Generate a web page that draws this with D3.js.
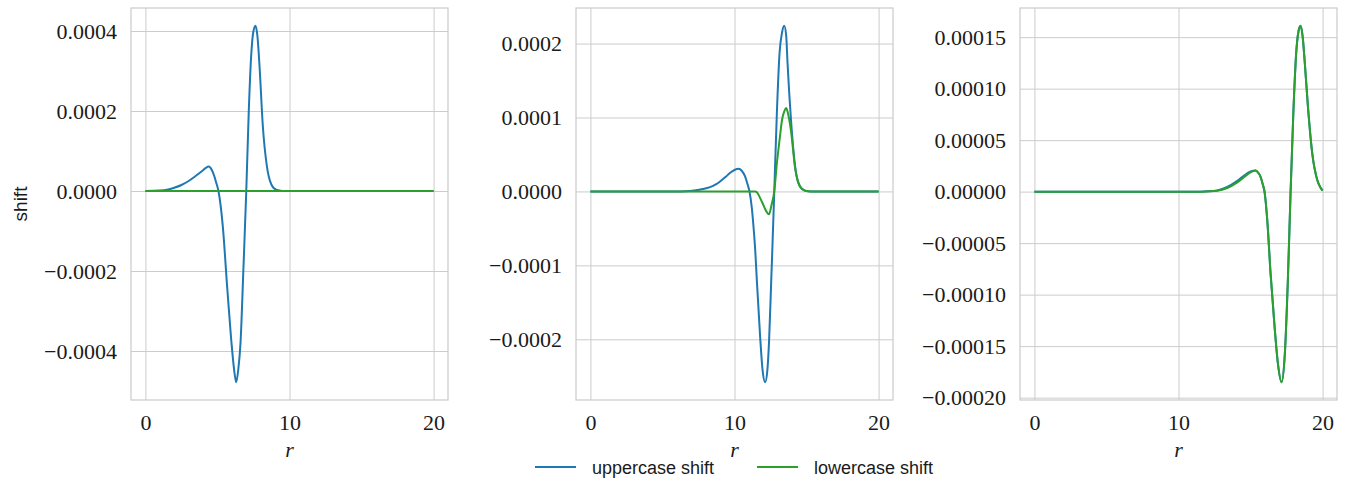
<!DOCTYPE html>
<head>
  <meta charset="utf-8">
  <title>shift vs r</title>
  <script src="https://d3js.org/d3.v7.min.js"></script>
  <style>
    body { margin: 0; background: #fff; }
    .tick text { font-family: "Liberation Serif", serif; font-size: 22px; fill: #1a1a1a; }
    .tick line { stroke: #cccccc; stroke-width: 1; }
    .domain { display: none; }
  </style>
</head>
<body>
  <div id="chart"></div>
  <script type="text/javascript">

    // values, shift in units of 1e-4
    var SCALE = 1e-4;

    // panel 1
    var r1 = [0, 1, 1.5, 2, 2.5, 3, 3.5, 4, 4.2, 4.4, 4.6, 4.8, 4.91, 5.07, 5.37, 5.67, 5.95, 6.15, 6.3, 6.45, 6.6, 6.8, 7.0, 7.17, 7.34, 7.5, 7.64, 7.78, 7.92, 8.15, 8.43, 8.73, 9.07, 9.5, 10, 12, 14, 16, 18, 20];
    var upper1 = [0, 0.01, 0.03, 0.08, 0.15, 0.25, 0.38, 0.52, 0.58, 0.61, 0.53, 0.35, 0.21, 0, -0.88, -2.38, -3.7, -4.45, -4.78, -4.45, -3.8, -1.96, 0, 1.96, 3.38, 4.0, 4.13, 3.85, 3.12, 1.62, 0.62, 0.17, 0.03, 0, 0, 0, 0, 0, 0, 0];
    var lower1 = [0, 0, 0, 0, 0, 0, 0, 0, 0, 0, 0, 0, 0, 0, 0, 0, 0, 0, 0, 0, 0, 0, 0, 0, 0, 0, 0, 0, 0, 0, 0, 0, 0, 0, 0, 0, 0, 0, 0, 0];

    // panel 2
    var r2 = [0, 2, 4, 6, 6.6, 7.2, 7.8, 8.3, 8.7, 9.0, 9.4, 9.7, 10.0, 10.28, 10.5, 10.74, 10.9, 11.04, 11.2, 11.32, 11.44, 11.55, 11.78, 11.95, 12.13, 12.28, 12.4, 12.55, 12.6, 12.76, 12.94, 13.13, 13.3, 13.45, 13.59, 13.68, 13.92, 14.22, 14.56, 14.9, 15.3, 16, 18, 20];
    var upper2 = [0, 0, 0, 0, 0.004, 0.014, 0.032, 0.058, 0.095, 0.135, 0.2, 0.252, 0.29, 0.306, 0.28, 0.2, 0.1, 0, -0.22, -0.48, -0.8, -1.2, -1.97, -2.42, -2.58, -2.42, -2.02, -1.2, -0.93, 0, 1.06, 1.88, 2.15, 2.24, 2.1, 1.74, 0.97, 0.32, 0.065, 0.01, 0, 0, 0, 0];
    var lower2 = [0, 0, 0, 0, 0, 0, 0, 0, 0, 0, 0, 0, 0, 0, 0, 0, 0, 0, 0, 0, 0, -0.01, -0.09, -0.16, -0.24, -0.29, -0.31, -0.2, -0.16, 0, 0.38, 0.7, 0.97, 1.08, 1.13, 1.08, 0.82, 0.3, 0.06, 0.01, 0, 0, 0, 0];

    // panel 3
    var r3 = [0, 2, 4, 6, 8, 10, 11.5, 12, 12.69, 13.38, 14.08, 14.77, 15.1, 15.35, 15.55, 15.69, 15.85, 15.97, 16.16, 16.39, 16.67, 16.9, 17.15, 17.38, 17.59, 17.78, 17.97, 18.17, 18.32, 18.47, 18.62, 18.75, 18.98, 19.28, 19.63, 19.85, 20];
    var upper3 = [0, 0, 0, 0, 0, 0, 0, 0.003, 0.012, 0.045, 0.105, 0.178, 0.2, 0.205, 0.18, 0.146, 0.07, 0, -0.276, -0.795, -1.316, -1.67, -1.85, -1.575, -0.86, 0, 0.764, 1.35, 1.55, 1.61, 1.5, 1.28, 0.83, 0.374, 0.114, 0.04, 0.01];
    var lower3 = [0, 0, 0, 0, 0, 0, 0, 0.002, 0.008, 0.035, 0.09, 0.165, 0.195, 0.205, 0.18, 0.146, 0.07, 0, -0.276, -0.795, -1.316, -1.67, -1.85, -1.575, -0.86, 0, 0.764, 1.35, 1.55, 1.61, 1.5, 1.28, 0.83, 0.374, 0.114, 0.04, 0.01];

    var xTicks = [0, 10, 20];
    var yTicks1 = [-0.0004, -0.0002, 0, 0.0002, 0.0004];
    var yTicks2 = [-0.0002, -0.0001, 0, 0.0001, 0.0002];
    var yTicks3 = [-0.0002, -0.00015, -0.0001, -0.00005, 0, 0.00005, 0.0001, 0.00015];
    var yDecimals = [4, 4, 5];

    var seriesNames = ['uppercase shift', 'lowercase shift'];
    var colors = ['#1f77b4', '#2ca02c'];

    var panels = [
      { r: r1, upper: upper1, lower: lower1, ticks: yTicks1 },
      { r: r2, upper: upper2, lower: lower2, ticks: yTicks2 },
      { r: r3, upper: upper3, lower: lower3, ticks: yTicks3 }
    ];

    var panelLefts = [131, 576, 1020];
    var panelWidth = 317;
    var panelTop = 8;
    var panelHeight = 392;

    var svg = d3.select('#chart')
      .append('svg')
        .attr('width', 1353)
        .attr('height', 480);

    panels.forEach(function (p, i) {
      var up = p.r.map(function (r, k) { return [r, p.upper[k] * SCALE]; });
      var lo = p.r.map(function (r, k) { return [r, p.lower[k] * SCALE]; });

      // matplotlib-like 5% margins
      var yExt = d3.extent(p.upper.concat(p.lower)).map(function (v) { return v * SCALE; });
      var yPad = (yExt[1] - yExt[0]) * 0.05;

      var xScale = d3.scaleLinear().domain([-1, 21]).range([0, panelWidth]);
      var yScale = d3.scaleLinear().domain([yExt[0] - yPad, yExt[1] + yPad]).range([panelHeight, 0]);

      var g = svg.append('g')
        .attr('transform', 'translate(' + panelLefts[i] + ',' + panelTop + ')');

      g.append('g')
          .attr('transform', 'translate(0,' + panelHeight + ')')
          .call(d3.axisBottom(xScale).tickValues(xTicks).tickSize(-panelHeight).tickPadding(14));

      g.append('g')
          .call(d3.axisLeft(yScale).tickValues(p.ticks).tickSize(-panelWidth).tickPadding(14)
            .tickFormat(d3.format('.' + yDecimals[i] + 'f')));

      g.append('rect')
          .attr('width', panelWidth)
          .attr('height', panelHeight)
          .attr('fill', 'none')
          .attr('stroke', '#cccccc')
          .attr('stroke-width', 1.25);

      var line = d3.line()
          .x(function (d) { return xScale(d[0]); })
          .y(function (d) { return yScale(d[1]); })
          .curve(d3.curveMonotoneX);

      [up, lo].forEach(function (data, s) {
        g.append('path')
            .datum(data)
            .attr('d', line)
            .attr('fill', 'none')
            .attr('stroke', colors[s])
            .attr('stroke-width', 2)
            .attr('stroke-linejoin', 'round');
      });

      g.append('text')
          .attr('x', panelWidth / 2)
          .attr('y', 449)
          .attr('text-anchor', 'middle')
          .style('font-family', '"Liberation Serif", serif')
          .style('font-style', 'italic')
          .style('font-size', '22px')
          .attr('fill', '#1a1a1a')
          .text('r');
    });

    // y label
    svg.append('text')
        .attr('transform', 'translate(27,' + (panelTop + panelHeight / 2) + ') rotate(-90)')
        .attr('text-anchor', 'middle')
        .style('font-family', '"Liberation Sans", sans-serif')
        .style('font-size', '19px')
        .attr('fill', '#1a1a1a')
        .text('shift');

    // legend
    var legendX = [535, 757];
    seriesNames.forEach(function (name, s) {
      svg.append('line')
          .attr('x1', legendX[s])
          .attr('x2', legendX[s] + 41)
          .attr('y1', 467)
          .attr('y2', 467)
          .attr('stroke', colors[s])
          .attr('stroke-width', 2);
      svg.append('text')
          .attr('x', legendX[s] + 57)
          .attr('y', 474)
          .style('font-family', '"Liberation Sans", sans-serif')
          .style('font-size', '18px')
          .attr('fill', '#1a1a1a')
          .text(name);
    });
  </script>
</body>
